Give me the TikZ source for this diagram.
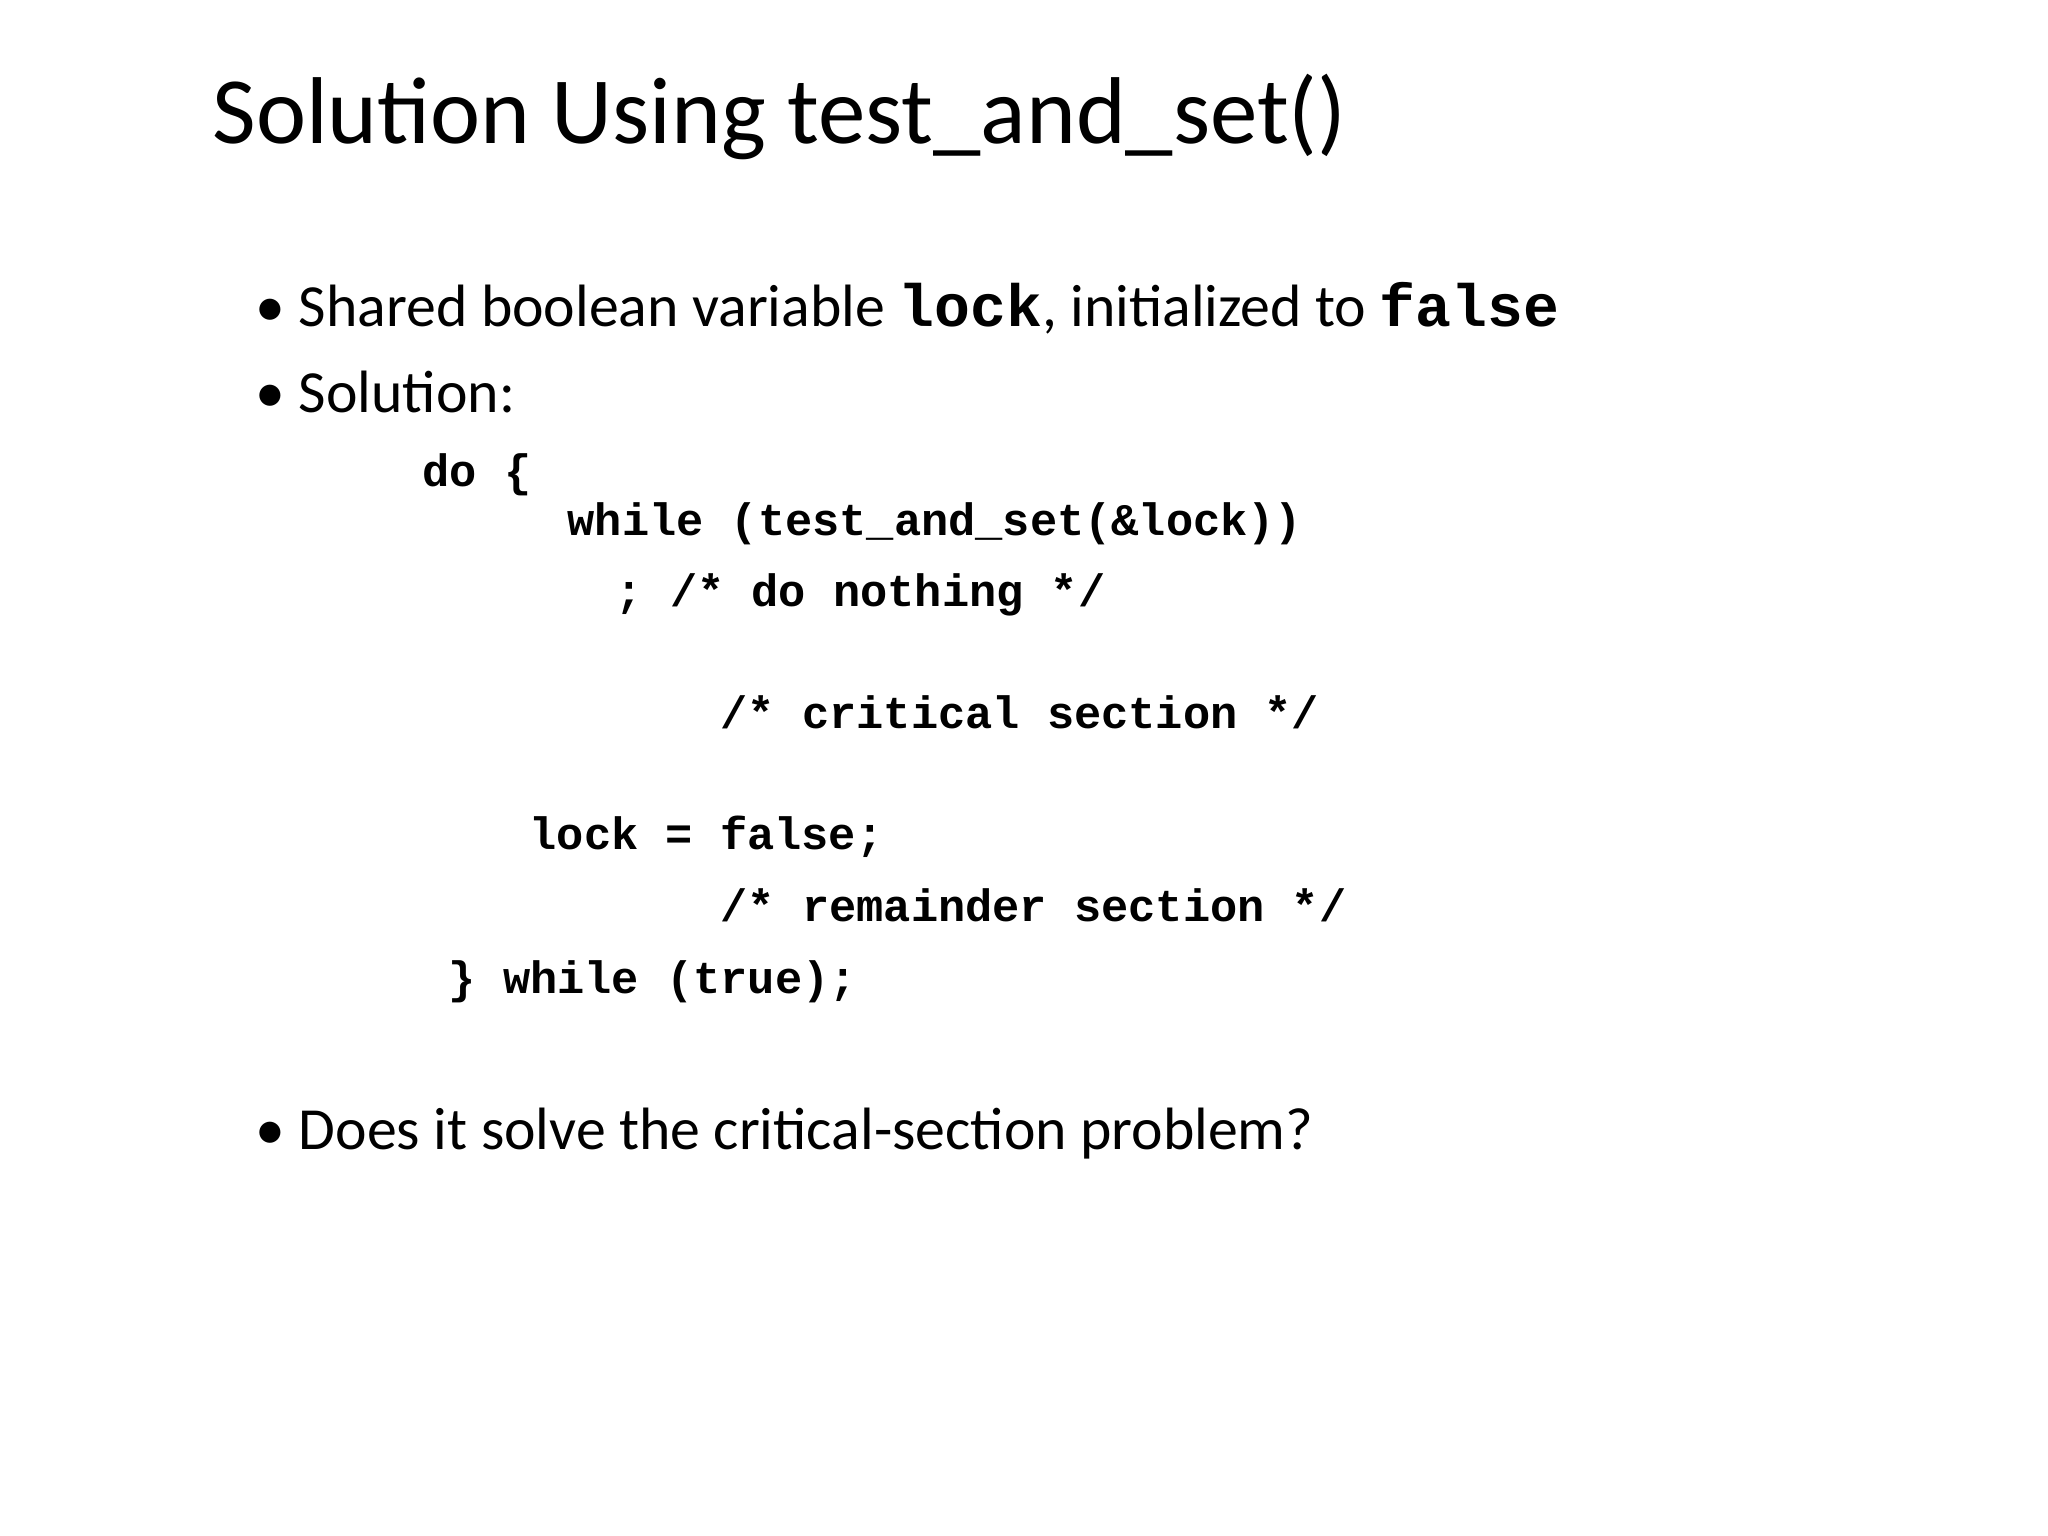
\documentclass[tikz,border=0pt]{standalone}
\usepackage{fontspec}
\setmainfont{Carlito}
\newfontfamily\codefont{Liberation Mono}
\begin{document}
\begin{tikzpicture}[x=1cm,y=-1cm,
  txt/.style={anchor=base west,inner sep=0pt,font=\fontsize{17}{20}\selectfont},
  code/.style={anchor=base west,inner sep=0pt,font=\codefont\bfseries\fontsize{12.9}{15}\selectfont}]
\useasboundingbox (0,0) rectangle (20.48,15.36);
\node[anchor=base west,inner sep=0pt,font=\fontsize{27}{32}\selectfont] (title) at (2.12,1.44) {Solution Using test\_and\_set()};
\node[txt] (b1) at (2.55,3.27) {\textbullet\ Shared boolean variable {\codefont\bfseries lock}, initialized to {\codefont\bfseries false}};
\node[txt] (b2) at (2.55,4.13) {\textbullet\ Solution:};
\node[code] (c1) at (4.22,4.87) {do \{};
\node[code] (c2) at (5.67,5.35) {while (test\_and\_set(\&lock))};
\node[code] (c3) at (6.15,6.07) {; /* do nothing */};
\node[code] (c4) at (7.20,7.29) {/* critical section */};
\node[code] (c5) at (5.29,8.49) {lock = false;};
\node[code] (c6) at (7.20,9.21) {/* remainder section */};
\node[code] (c7) at (4.48,9.93) {\} while (true);};
\node[txt] (b3) at (2.55,11.49) {\textbullet\ Does it solve the critical-section problem?};
\end{tikzpicture}
\end{document}
